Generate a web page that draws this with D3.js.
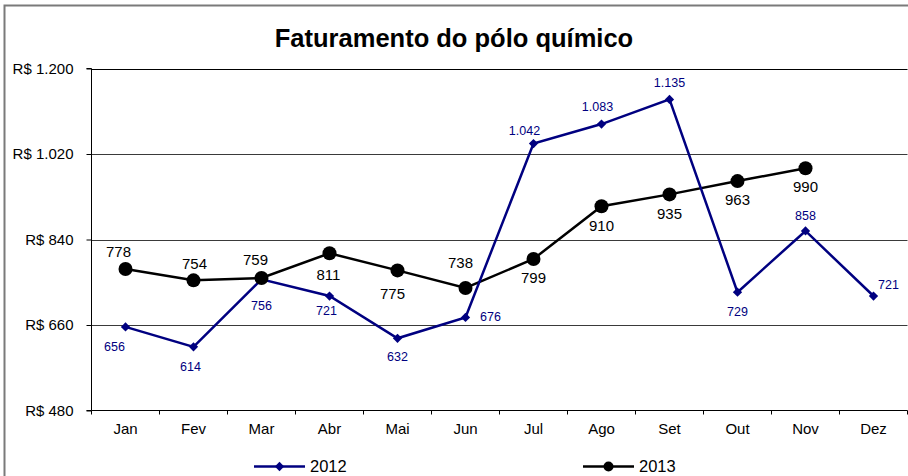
<!DOCTYPE html>
<html lang="pt">
<head>
<meta charset="utf-8">
<title>Faturamento do pólo químico</title>
<script src="https://cdn.jsdelivr.net/npm/d3@7"></script>
<style>
  body { margin: 0; background: #fff; }
  svg { display: block; font-family: "Liberation Sans", Arial, sans-serif; }
</style>
</head>
<body>
<svg id="chart" width="908" height="476"></svg>
<script>
// dados
var meses = ["Jan", "Fev", "Mar", "Abr", "Mai", "Jun", "Jul", "Ago", "Set", "Out", "Nov", "Dez"];
var vendas2012 = [656, 614, 756, 721, 632, 676, 1042, 1083, 1135, 729, 858, 721];
var vendas2013 = [778, 754, 759, 811, 775, 738, 799, 910, 935, 963, 990];
var yTicks = [480, 660, 840, 1020, 1200];
var titulo = "Faturamento do pólo químico";

// posicao dos rotulos (dx, dy em px a partir do ponto)
var off2012 = [[-11,20],[-3,20],[0,26],[-3,15],[0,18],[25,-1],[-9,-13],[-4,-17],[0,-17],[0,19],[0,-15],[15,-11]];
var off2013 = [[-7,-17],[1,-17],[-6,-18],[-1,21],[-5,23],[-5,-25],[0,19],[0,19],[0,19],[0,19],[0,18]];

var br = d3.formatLocale({decimal: ",", thousands: ".", grouping: [3], currency: ["R$ ", ""]});
var fmt = br.format(",d");

var svg = d3.select("#chart");

// moldura
svg.append("rect")
  .attr("x", 4.5).attr("y", 5.5)
  .attr("width", 920).attr("height", 490)
  .attr("fill", "none").attr("stroke", "#7a7a7a").attr("stroke-width", 2);

svg.append("text")
  .attr("x", 454).attr("y", 47)
  .attr("text-anchor", "middle")
  .attr("font-size", "25.5px").attr("font-weight", "bold")
  .text(titulo);

var x = d3.scaleBand().domain(meses).range([91.5, 907.5]);
var y = d3.scaleLinear().domain([480, 1200]).range([410.5, 68.5]);
var cx = function(i) { return x(meses[i]) + x.bandwidth() / 2; };

// grade
svg.append("g").selectAll("line")
  .data(yTicks.slice(1))
  .enter().append("line")
  .attr("x1", 91.5).attr("x2", 907.5)
  .attr("y1", function(d) { return Math.round(y(d)) + 0.5; })
  .attr("y2", function(d) { return Math.round(y(d)) + 0.5; })
  .attr("stroke", function(d) { return d == 1200 ? "#000" : "#3a3a3a"; })
  .attr("stroke-width", 1);

// eixo y
var yAxis = d3.axisLeft(y)
  .tickValues(yTicks)
  .tickSize(5)
  .tickPadding(13)
  .tickFormat(function(d) { return "R$ " + fmt(d); });
var gy = svg.append("g").attr("transform", "translate(91.5,0)").call(yAxis);
gy.select(".domain").attr("stroke", "#000").attr("d", "M-5,68.5H0V410.5H-5");
gy.selectAll("text").attr("font-size", "15px").attr("font-family", null).attr("fill", "#000");

// eixo x
var xAxis = d3.axisBottom(x).tickSize(0).tickPadding(13);
var gx = svg.append("g").attr("transform", "translate(0,410.5)").call(xAxis);
gx.select(".domain").attr("stroke", "#000").attr("d", "M91.5,0H907.5");
gx.selectAll("text").attr("font-size", "15px").attr("font-family", null).attr("fill", "#000");
gx.selectAll(".sep")
  .data(meses.map(function(m) { return x(m); }).concat([x.range()[1]]))
  .enter().append("line")
  .attr("class", "sep")
  .attr("x1", function(d) { return d; }).attr("x2", function(d) { return d; })
  .attr("y1", 0).attr("y2", 4)
  .attr("stroke", "#000");

var linha = d3.line()
  .x(function(d, i) { return cx(i); })
  .y(function(d) { return y(d); });

// linhas
svg.append("path").datum(vendas2013)
  .attr("d", linha).attr("fill", "none")
  .attr("stroke", "#000").attr("stroke-width", 2.5);
svg.append("path").datum(vendas2012)
  .attr("d", linha).attr("fill", "none")
  .attr("stroke", "#000080").attr("stroke-width", 2.5);

var diamante = d3.symbol().type(d3.symbolDiamond2).size(55);

svg.append("g").selectAll("path")
  .data(vendas2012).enter().append("path")
  .attr("d", diamante)
  .attr("transform", function(d, i) { return "translate(" + cx(i) + "," + y(d) + ")"; })
  .attr("fill", "#000080");

svg.append("g").selectAll("circle")
  .data(vendas2013).enter().append("circle")
  .attr("cx", function(d, i) { return cx(i); })
  .attr("cy", function(d) { return y(d); })
  .attr("r", 7)
  .attr("fill", "#000");

// rotulos
svg.append("g").selectAll("text")
  .data(vendas2012).enter().append("text")
  .attr("x", function(d, i) { return cx(i) + off2012[i][0]; })
  .attr("y", function(d, i) { return y(d) + off2012[i][1]; })
  .attr("dy", "0.35em")
  .attr("text-anchor", "middle")
  .attr("font-size", "12.5px")
  .attr("fill", "#000080")
  .text(function(d) { return fmt(d); });

svg.append("g").selectAll("text")
  .data(vendas2013).enter().append("text")
  .attr("x", function(d, i) { return cx(i) + off2013[i][0]; })
  .attr("y", function(d, i) { return y(d) + off2013[i][1]; })
  .attr("dy", "0.35em")
  .attr("text-anchor", "middle")
  .attr("font-size", "15px")
  .attr("fill", "#000")
  .text(function(d) { return fmt(d); });

// legenda
var leg = [
  {nome: "2012", x: 254, cor: "#000080", tipo: "d"},
  {nome: "2013", x: 583, cor: "#000", tipo: "c"}
];
var gl = svg.append("g").selectAll("g").data(leg).enter().append("g")
  .attr("transform", function(d) { return "translate(" + d.x + ",466.5)"; });
gl.append("line").attr("x1", 0).attr("x2", 51)
  .attr("stroke", function(d) { return d.cor; }).attr("stroke-width", 2.5);
gl.each(function(d) {
  var g = d3.select(this);
  if (d.tipo == "d") {
    g.append("path").attr("d", diamante).attr("transform", "translate(25.5,0)").attr("fill", d.cor);
  } else {
    g.append("circle").attr("cx", 25.5).attr("r", 5).attr("fill", d.cor);
  }
});
gl.append("text").attr("x", 56).attr("dy", "0.36em")
  .attr("font-size", "16.5px").attr("fill", "#000")
  .text(function(d) { return d.nome; });
</script>
</body>
</html>
